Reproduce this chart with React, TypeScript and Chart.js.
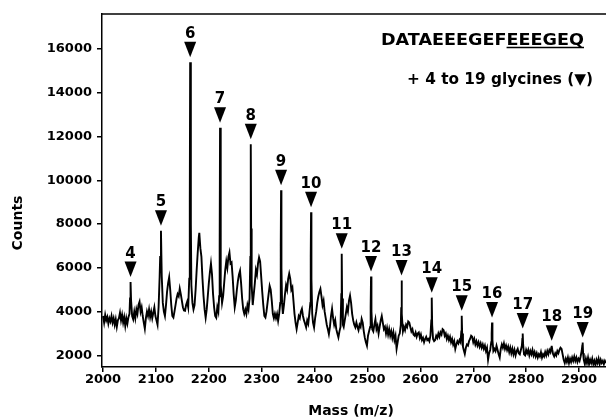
import { useEffect, useRef } from 'react';
import { Chart, registerables } from 'chart.js';

Chart.register(...registerables);

// Spectrum segments: [mass (m/z), counts]
const seg2000: [number, number][] = [
  [2000, 3800], [2002, 3500], [2004, 3850], [2006, 3600], [2008, 3750], [2010, 3450], [2012, 3700], [2014, 3550],
  [2016, 3800], [2018, 3500], [2020, 3700], [2022, 3400], [2024, 3650], [2026, 3300], [2028, 3600], [2030, 3700],
  [2032, 3950], [2034, 3600], [2036, 3850], [2038, 3500], [2040, 3750], [2042, 3350], [2044, 3700], [2046, 3450],
  [2048, 3750], [2050, 3900], [2051, 4600], [2052, 5350], [2053, 4500], [2055, 3800], [2057, 3650], [2059, 4000],
  [2061, 3700], [2063, 4100], [2065, 3900], [2067, 4300], [2069, 4450], [2071, 4000], [2073, 4200], [2075, 3800],
  [2077, 3500], [2079, 3220], [2081, 3700], [2083, 4000], [2085, 3800], [2087, 4100], [2089, 3750], [2091, 4000],
  [2093, 3700], [2095, 3950], [2097, 4200], [2099, 3800],
];
const seg2100: [number, number][] = [
  [2101, 3600], [2103, 3400], [2105, 4200], [2107, 5600], [2108, 6500], [2109.5, 7700], [2111, 5600], [2113, 4400],
  [2115, 4000], [2117, 3800], [2119, 4300], [2121, 4900], [2123, 5300], [2125, 5570], [2127, 5000], [2129, 4300],
  [2131, 3800], [2133, 3730], [2135, 4000], [2137, 4300], [2139, 4600], [2141, 4800], [2143, 4700], [2145, 5050],
  [2147, 4800], [2149, 4500], [2151, 4200], [2153, 4050], [2155, 4040], [2157, 4300], [2159, 4450], [2161, 4200],
  [2163, 5500], [2164, 9000], [2164.7, 15400], [2166, 8000], [2167, 5200], [2169, 4400], [2171, 4100], [2173, 4300],
  [2175, 5000], [2177, 5900], [2179, 6700], [2181, 7400], [2182, 7600], [2184, 6900], [2186, 6500], [2188, 5500],
  [2190, 4700], [2192, 4100], [2194, 3720], [2196, 4100], [2198, 4700],
];
const seg2200: [number, number][] = [
  [2200, 5300], [2202, 5800], [2204, 6200], [2206, 5700], [2208, 4800], [2210, 4200], [2212, 3800], [2214, 3720],
  [2216, 4200], [2218, 4000], [2219.5, 4700], [2220.5, 7000], [2221.2, 12400], [2222, 8000], [2223, 5200], [2225, 4400],
  [2227, 4700], [2229, 5300], [2231, 5900], [2233, 6300], [2235, 6000], [2237, 6500], [2239, 6700], [2241, 6200],
  [2243, 6250], [2245, 5600], [2247, 4800], [2249, 4200], [2251, 4500], [2253, 5000], [2255, 5400], [2257, 5700],
  [2259, 5870], [2261, 5300], [2263, 4600], [2265, 4100], [2267, 3900], [2269, 4100], [2271, 3900], [2273, 4300],
  [2275, 4100], [2277, 4600], [2278.5, 6500], [2279.3, 11650], [2280, 7800], [2281, 5200], [2283, 4300], [2285, 4800],
  [2287, 5300], [2289, 5900], [2291, 5700], [2293, 6200], [2295, 6480], [2297, 6300], [2299, 5600],
];
const seg2300: [number, number][] = [
  [2301, 4900], [2303, 4300], [2305, 3800], [2307, 3730], [2309, 4000], [2311, 4400], [2313, 4800], [2315, 5180],
  [2317, 5000], [2319, 4500], [2321, 3900], [2323, 3700], [2325, 3900], [2327, 3700], [2329, 3900], [2331, 3580],
  [2333, 3900], [2335, 4400], [2336, 7000], [2336.6, 9550], [2337.3, 6000], [2338.5, 4400], [2340, 3900], [2342, 4300],
  [2344, 4800], [2346, 5200], [2348, 5000], [2350, 5500], [2352, 5740], [2354, 5500], [2356, 5000], [2358, 5110],
  [2360, 4500], [2362, 3900], [2364, 3500], [2366, 3200], [2368, 3500], [2370, 3800], [2372, 3700], [2374, 4000],
  [2376, 4130], [2378, 3800], [2380, 3600], [2382, 3450], [2384, 3280], [2386, 3600], [2388, 3450], [2390, 3900],
  [2392, 4400], [2392.7, 6500], [2393.3, 8540], [2394, 5500], [2395.5, 3900], [2397, 3500], [2399, 3280],
];
const seg2400: [number, number][] = [
  [2401, 3700], [2403, 4000], [2405, 4400], [2407, 4700], [2409, 4900], [2411, 5040], [2413, 4700], [2415, 4300],
  [2417, 4500], [2419, 4000], [2421, 3700], [2423, 3400], [2425, 3200], [2427, 2970], [2429, 3300], [2431, 3800],
  [2433, 4130], [2435, 3700], [2437, 3400], [2439, 3600], [2441, 3200], [2443, 3000], [2445, 2820], [2447, 3100],
  [2449, 3300], [2450.5, 4800], [2451.3, 6650], [2452, 4600], [2453.5, 3400], [2455, 3300], [2457, 3600], [2459, 3900],
  [2461, 4200], [2463, 4000], [2465, 4500], [2467, 4730], [2469, 4400], [2471, 3900], [2473, 3600], [2475, 3400],
  [2477, 3280], [2479, 3500], [2481, 3300], [2483, 3150], [2485, 3400], [2487, 3300], [2489, 3670], [2491, 3500],
  [2493, 3100], [2495, 2800], [2497, 2600], [2499, 2440],
];
const seg2500: [number, number][] = [
  [2501, 2900], [2503, 3100], [2505, 3300], [2506, 4200], [2506.7, 5600], [2507.5, 4000], [2509, 3200], [2511, 3100],
  [2513, 3400], [2515, 3650], [2517, 3200], [2519, 3350], [2521, 3000], [2523, 3300], [2525, 3600], [2527, 3800],
  [2529, 3500], [2531, 3200], [2533, 3300], [2535, 3000], [2537, 3250], [2539, 2950], [2541, 3200], [2543, 2900],
  [2545, 3100], [2547, 2800], [2549, 3050], [2551, 2700], [2553, 2900], [2555, 2300], [2557, 2600], [2559, 2900],
  [2561, 3000], [2563, 3400], [2563.8, 4200], [2564.4, 5420], [2565.2, 3900], [2567, 3100], [2569, 3300], [2571, 3150],
  [2573, 3400], [2575, 3300], [2577, 3550], [2579, 3500], [2581, 3300], [2583, 3100], [2585, 3200], [2587, 2950],
  [2589, 2900], [2591, 3050], [2593, 2850], [2595, 3000], [2597, 3050], [2599, 2800],
];
const seg2600: [number, number][] = [
  [2601, 2950], [2603, 2700], [2605, 2800], [2607, 2600], [2609, 2750], [2611, 2850], [2613, 2700], [2615, 2750],
  [2617, 2650], [2619, 2900], [2620.7, 3600], [2621.5, 4640], [2622.3, 3400], [2624, 2750], [2626, 2650], [2628, 2700],
  [2630, 2900], [2632, 2800], [2634, 3000], [2636, 2850], [2638, 3050], [2640, 2950], [2642, 3200], [2644, 3150],
  [2646, 2900], [2648, 3000], [2650, 2750], [2652, 2900], [2654, 2700], [2656, 2850], [2658, 2600], [2660, 2750],
  [2662, 2500], [2664, 2650], [2666, 2300], [2668, 2500], [2670, 2650], [2672, 2550], [2674, 2700], [2676, 2600],
  [2677.4, 3100], [2678.2, 3810], [2679, 3000], [2680.5, 2400], [2682, 2250], [2684, 2070], [2686, 2350], [2688, 2500],
  [2690, 2450], [2692, 2650], [2694, 2750], [2696, 2900], [2698, 2850], [2700, 2600],
];
const seg2700: [number, number][] = [
  [2702, 2750], [2704, 2500], [2706, 2650], [2708, 2450], [2710, 2600], [2712, 2400], [2714, 2550], [2716, 2350],
  [2718, 2500], [2720, 2300], [2722, 2450], [2724, 2200], [2726, 2350], [2728, 1800], [2730, 2100], [2732, 2250],
  [2734, 2600], [2734.8, 3000], [2735.5, 3500], [2736.3, 2700], [2738, 2200], [2740, 2300], [2742, 2200], [2744, 2440],
  [2746, 2250], [2748, 2050], [2750, 1900], [2752, 2300], [2754, 2500], [2756, 2350], [2758, 2550], [2760, 2300],
  [2762, 2450], [2764, 2250], [2766, 2400], [2768, 2150], [2770, 2350], [2772, 2100], [2774, 2300], [2776, 2050],
  [2778, 2250], [2780, 2000], [2782, 2200], [2784, 2300], [2786, 2100], [2788, 2050], [2790, 2250], [2792, 2450],
  [2792.8, 2750], [2793.5, 3000], [2794.3, 2500], [2796, 2050], [2798, 2000],
];
const seg2800: [number, number][] = [
  [2800, 2250], [2802, 2100], [2804, 2250], [2806, 2000], [2808, 2200], [2810, 2050], [2812, 2250], [2814, 2000],
  [2816, 2150], [2818, 1950], [2820, 2100], [2822, 1900], [2824, 2050], [2826, 1950], [2828, 2150], [2830, 1900],
  [2832, 2050], [2834, 1950], [2836, 2150], [2838, 2000], [2840, 2200], [2842, 2050], [2844, 2250], [2846, 2150],
  [2847.5, 2350], [2848.3, 2440], [2849.5, 2250], [2851, 2050], [2853, 1950], [2855, 2100], [2857, 2000], [2859, 2200],
  [2861, 2100], [2863, 2250], [2865, 2350], [2867, 2300], [2869, 2050], [2871, 1800], [2873, 1650], [2875, 1850],
  [2877, 1700], [2879, 1900], [2881, 1650], [2883, 1850], [2885, 1700], [2887, 1900], [2889, 1750], [2891, 1950],
  [2893, 1750], [2895, 1900], [2897, 1700], [2899, 1850],
];
const seg2900: [number, number][] = [
  [2901, 1750], [2903, 1950], [2905, 2200], [2906.2, 2450], [2906.9, 2590], [2907.7, 2100], [2909, 1800], [2911, 1600],
  [2913, 1850], [2915, 1650], [2917, 1900], [2919, 1600], [2921, 1800], [2923, 1650], [2925, 1850], [2927, 1600],
  [2929, 1750], [2931, 1550], [2933, 1800], [2935, 1650], [2937, 1850], [2939, 1600], [2941, 1800], [2943, 1650],
  [2945, 1750], [2947, 1600], [2949, 1750], [2951, 1650],
];

// Glycine-addition peaks marked with ▼
const markerMasses = [2052, 2109.5, 2164.7, 2221.2, 2279.3, 2336.6, 2393.3, 2451.3, 2506.7, 2564.4, 2621.5, 2678.2, 2735.5, 2793.5, 2848.3, 2906.9];
const markerCounts = [5350, 7700, 15400, 12400, 11650, 9550, 8540, 6650, 5600, 5420, 4640, 3810, 3500, 3000, 2440, 2590];
const markerLabels = ['4', '5', '6', '7', '8', '9', '10', '11', '12', '13', '14', '15', '16', '17', '18', '19'];

// Axis ticks
const xTickValues = [2000, 2100, 2200, 2300, 2400, 2500, 2600, 2700, 2800, 2900];
const yTickValues = [2000, 4000, 6000, 8000, 10000, 12000, 14000, 16000];

const sequencePlain = 'DATAEEEGEF';
const sequenceUnderlined = 'EEEGEQ';
const glycineNote = '+ 4 to 19 glycines (▼)';
const xTitle = 'Mass (m/z)';
const yTitle = 'Counts';

const FONT = "'DejaVu Sans', 'Liberation Sans', sans-serif";

export default function App() {
  const ref = useRef<HTMLCanvasElement>(null);

  useEffect(() => {
    document.body.style.margin = '0';
    const canvas = ref.current;
    if (!canvas) return;

    const spectrum = [
      ...seg2000, ...seg2100, ...seg2200, ...seg2300, ...seg2400,
      ...seg2500, ...seg2600, ...seg2700, ...seg2800, ...seg2900,
    ].map(([x, y]) => ({ x, y }));

    const annotations = {
      id: 'annotations',
      afterDraw(chart: any) {
        const ctx = chart.ctx as CanvasRenderingContext2D;
        const xs = chart.scales.x;
        const ys = chart.scales.y;
        const a = chart.chartArea;
        ctx.save();

        // top frame line
        ctx.strokeStyle = '#000';
        ctx.lineWidth = 1.5;
        ctx.beginPath();
        ctx.moveTo(a.left, a.top);
        ctx.lineTo(a.right, a.top);
        ctx.stroke();

        // peak markers
        ctx.fillStyle = '#000';
        ctx.font = `bold 15px ${FONT}`;
        ctx.textAlign = 'center';
        ctx.textBaseline = 'alphabetic';
        markerMasses.forEach((m, i) => {
          const px = xs.getPixelForValue(m);
          const py = ys.getPixelForValue(markerCounts[i]);
          const apex = py - 5;
          const top = apex - 15.5;
          ctx.beginPath();
          ctx.moveTo(px - 6, top);
          ctx.lineTo(px + 6, top);
          ctx.lineTo(px, apex);
          ctx.closePath();
          ctx.fill();
          ctx.fillText(markerLabels[i], px, top - 4);
        });

        // sequence annotation
        ctx.textAlign = 'left';
        ctx.font = `bold 15px ${FONT}`;
        const full = sequencePlain + sequenceUnderlined;
        const wFull = ctx.measureText(full).width;
        const sx = 203 / wFull;
        const wPlain = ctx.measureText(sequencePlain).width;
        ctx.save();
        ctx.translate(381, 45);
        ctx.scale(sx, 1);
        ctx.fillText(full, 0, 0);
        ctx.restore();
        ctx.lineWidth = 1.5;
        ctx.beginPath();
        ctx.moveTo(381 + wPlain * sx, 47.5);
        ctx.lineTo(381 + wFull * sx, 47.5);
        ctx.stroke();

        // glycine note
        const wNote = ctx.measureText(glycineNote).width;
        ctx.save();
        ctx.translate(407, 83.5);
        ctx.scale(186 / wNote, 1);
        ctx.fillText(glycineNote, 0, 0);
        ctx.restore();

        // axis titles
        ctx.font = `bold 14px ${FONT}`;
        ctx.textAlign = 'center';
        ctx.fillText(xTitle, 351, 415);
        ctx.save();
        ctx.translate(18, 223);
        ctx.rotate(-Math.PI / 2);
        ctx.textBaseline = 'middle';
        ctx.fillText(yTitle, 0, 0);
        ctx.restore();

        ctx.restore();
      },
    };

    const tickFont = { family: FONT, size: 13, weight: 'bold' as const };

    const chart = new Chart(canvas, {
      type: 'line',
      data: {
        datasets: [
          {
            data: spectrum,
            borderColor: '#000',
            borderWidth: 1.9,
            pointRadius: 0,
            tension: 0,
            fill: false,
          },
        ],
      },
      options: {
        responsive: false,
        animation: false,
        layout: { padding: { top: 14, right: 0, left: 0, bottom: 0 } },
        plugins: { legend: { display: false }, tooltip: { enabled: false } },
        scales: {
          x: {
            type: 'linear',
            min: 1998,
            max: 2951,
            afterFit: (s: any) => { s.height = 51; },
            afterBuildTicks: (s: any) => { s.ticks = xTickValues.map((v) => ({ value: v })); },
            grid: { drawOnChartArea: false, drawTicks: true, tickLength: 5, color: '#000', lineWidth: 1.5 },
            border: { display: true, color: '#000', width: 1.5 },
            ticks: {
              autoSkip: false,
              maxRotation: 0,
              padding: 0,
              color: '#000',
              font: tickFont,
              callback: (v: any) => String(v),
            },
          },
          y: {
            type: 'linear',
            min: 1470,
            max: 17600,
            afterFit: (s: any) => { s.width = 102; },
            afterBuildTicks: (s: any) => { s.ticks = yTickValues.map((v) => ({ value: v })); },
            grid: { drawOnChartArea: false, drawTicks: true, tickLength: 5, color: '#000', lineWidth: 1.5 },
            border: { display: true, color: '#000', width: 1.5 },
            ticks: {
              autoSkip: false,
              padding: 5,
              color: '#000',
              font: tickFont,
              callback: (v: any) => String(v),
            },
          },
        },
      },
      plugins: [annotations],
    });

    return () => chart.destroy();
  }, []);

  return <canvas ref={ref} width={606} height={418} style={{ display: 'block', width: 606, height: 418 }} />;
}
